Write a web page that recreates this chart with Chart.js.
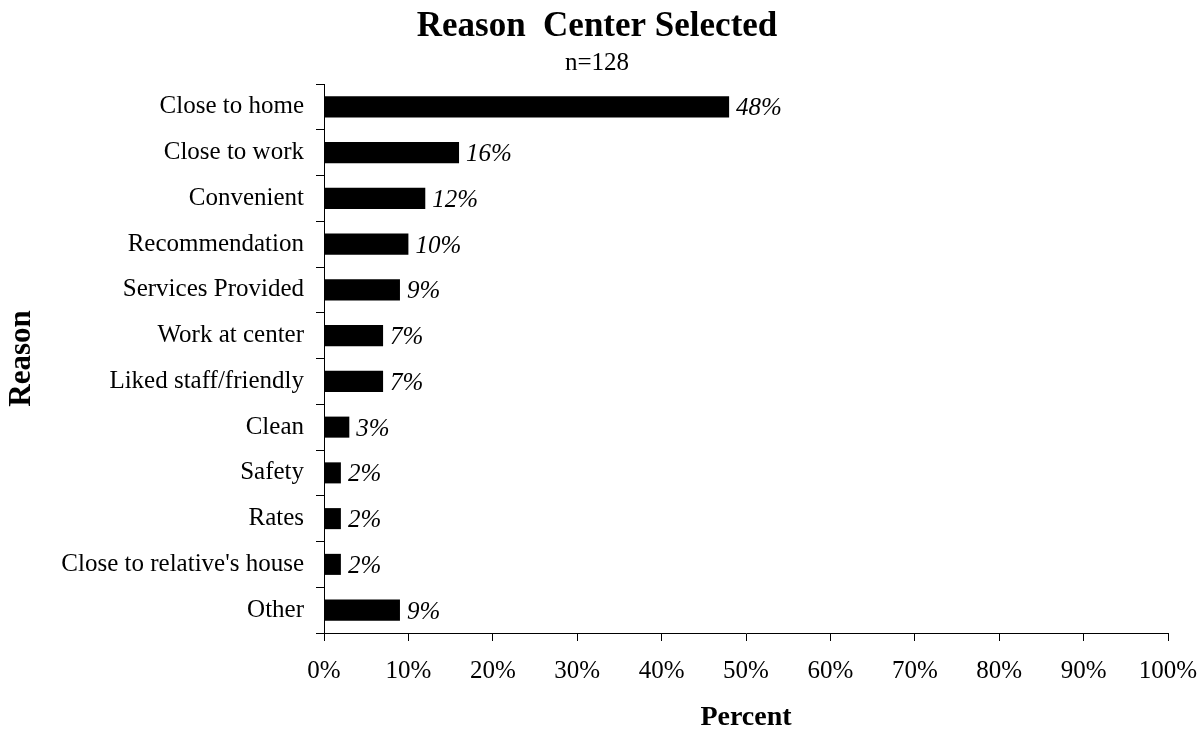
<!DOCTYPE html>
<html>
<head>
<meta charset="utf-8">
<title>Reason Center Selected</title>
<script src="https://cdn.jsdelivr.net/npm/chart.js@4.4.1/dist/chart.umd.min.js"></script>
<style>
  html, body { margin: 0; padding: 0; background: #ffffff; }
  #wrap { width: 1204px; height: 735px; }
</style>
</head>
<body>
<div id="wrap"><canvas id="reasonChart" width="1204" height="735"></canvas></div>
<script>
/* --------------- Data --------------------- */
const reasons = [
  "Close to home",
  "Close to work",
  "Convenient",
  "Recommendation",
  "Services Provided",
  "Work at center",
  "Liked staff/friendly",
  "Clean",
  "Safety",
  "Rates",
  "Close to relative's house",
  "Other",
];
const percents = [48, 16, 12, 10, 9, 7, 7, 3, 2, 2, 2, 9];
const percentTicks = [0, 10, 20, 30, 40, 50, 60, 70, 80, 90, 100];
const chartTitle = "Reason  Center Selected";
const chartSubtitle = "n=128";

const serif = "'Liberation Serif', 'Times New Roman', Times, serif";
Chart.defaults.font.family = serif;
Chart.defaults.color = "#000000";

/* --------------- Value labels next to each bar --------------------- */
const barValueLabels = {
  id: "barValueLabels",
  afterDatasetsDraw(chart) {
    const ctx = chart.ctx;
    const meta = chart.getDatasetMeta(0);
    ctx.save();
    ctx.font = "italic 25px " + serif;
    ctx.fillStyle = "#000000";
    ctx.textAlign = "left";
    ctx.textBaseline = "middle";
    meta.data.forEach((bar, i) => {
      ctx.fillText(percents[i] + "%", bar.x + 7, bar.y + 2);
    });
    ctx.restore();
  },
};

new Chart(document.getElementById("reasonChart"), {
  type: "bar",
  plugins: [barValueLabels],
  data: {
    labels: reasons,
    datasets: [
      {
        data: percents,
        backgroundColor: "#000000",
        borderWidth: 0,
        categoryPercentage: 1,
        barPercentage: 0.46,
      },
    ],
  },
  options: {
    indexAxis: "y",
    responsive: false,
    animation: false,
    layout: { padding: { top: 0, right: 10, bottom: 0, left: 0 } },
    plugins: {
      legend: { display: false },
      tooltip: { enabled: false },
      title: {
        display: true,
        text: chartTitle,
        font: { size: 35, weight: "bold" },
        padding: { top: 6, bottom: 0 },
      },
      subtitle: {
        display: true,
        text: chartSubtitle,
        font: { size: 25, weight: "normal" },
        color: "#000000",
        padding: { top: 0, bottom: 6 },
      },
    },
    scales: {
      x: {
        type: "linear",
        min: 0,
        max: 100,
        afterFit: (scale) => {
          scale.height = 102;
          scale.paddingRight = 36; // room for the "100%" label
        },
        afterBuildTicks: (scale) => {
          scale.ticks = percentTicks.map((v) => ({ value: v }));
        },
        ticks: {
          font: { size: 25 },
          padding: 15,
          callback: (v) => v + "%",
        },
        grid: {
          drawOnChartArea: false,
          drawTicks: true,
          tickLength: 8,
          color: "#000000",
        },
        border: { color: "#000000", width: 1 },
        title: {
          display: true,
          text: "Percent",
          font: { size: 28, weight: "bold" },
          padding: { top: 0, bottom: 0 },
        },
      },
      y: {
        afterFit: (scale) => { scale.width = 324; },
        ticks: {
          font: { size: 25 },
          padding: 12,
          autoSkip: false,
        },
        grid: {
          drawOnChartArea: false,
          drawTicks: true,
          tickLength: 8,
          offset: true,
          color: "#000000",
        },
        border: { color: "#000000", width: 1 },
        title: {
          display: true,
          text: "Reason",
          font: { size: 31, weight: "bold" },
          padding: { top: 3, bottom: 0 },
        },
      },
    },
  },
});
</script>
</body>
</html>
